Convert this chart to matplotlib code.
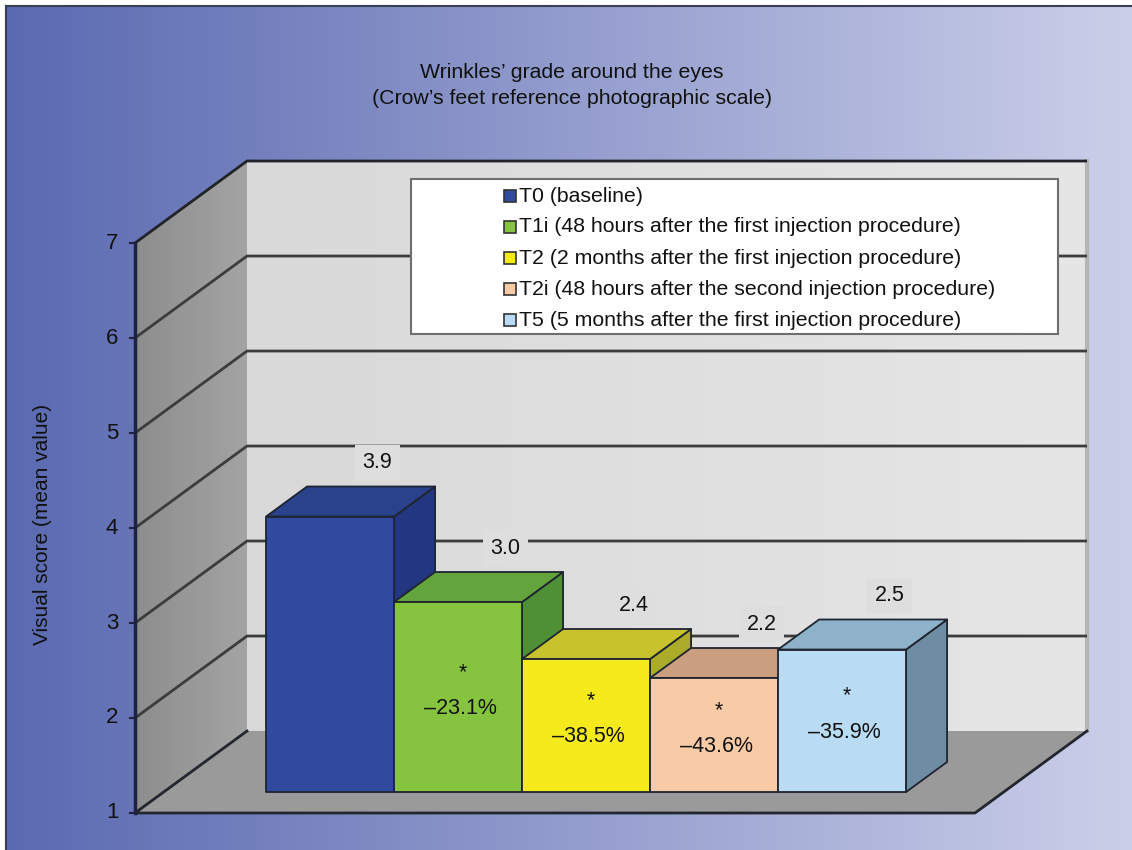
import numpy as np
import matplotlib
matplotlib.use("Agg")
import matplotlib.pyplot as plt
from matplotlib.patches import Polygon, Rectangle
from matplotlib.colors import to_rgb

plt.rcParams["font.family"] = ["Liberation Sans", "DejaVu Sans"]

# ---- data -------------------------------------------------------------
timepoints = ["T0", "T1i", "T2", "T2i", "T5"]
legend_labels = [
    "T0 (baseline)",
    "T1i (48 hours after the first injection procedure)",
    "T2 (2 months after the first injection procedure)",
    "T2i (48 hours after the second injection procedure)",
    "T5 (5 months after the first injection procedure)",
]
scores = [3.9, 3.0, 2.4, 2.2, 2.5]
significant = [False, True, True, True, True]
y_ticks = [1, 2, 3, 4, 5, 6, 7]

# ---- styling ----------------------------------------------------------
front_colors = ["#2f4a9e", "#86c440", "#f5ea1c", "#f9caa6", "#b9dbf3"]
top_colors = ["#2a418c", "#64a43c", "#c8c22c", "#c99f80", "#8fb2cb"]
side_colors = ["#233781", "#4f9036", "#adab2a", "#b88d6d", "#6e8da3"]
edge = "#1e2430"
text_color = "#111111"

# oblique projection of the 3-D box (depth 0 = front, 1 = back wall)
DX, DY = 0.875, 0.863
D_FRONT, D_BACK = 0.256, 0.622
X_LEFT, X_RIGHT = -1.30, 5.2625
V_MIN, V_MAX = 1, 7


def proj(x, v, d):
    return (x + d * DX, v + d * DY)


fig = plt.figure(figsize=(11.32, 8.5), dpi=100)
ax = fig.add_axes([0, 0, 1, 1])
ax.set_xlim(-2.3547, 6.489)
ax.set_ylim(0.6105, 9.558)
ax.axis("off")

# background gradient
c0 = np.array(to_rgb("#5a69b1"))
c1 = np.array(to_rgb("#cbcfe9"))
t = np.linspace(0, 1, 256)
grad = (c0[None, :] * (1 - t[:, None]) + c1[None, :] * t[:, None])[None, :, :]
ax.imshow(grad, extent=(-2.3547, 6.489, 0.6105, 9.558), aspect="auto",
          zorder=0, interpolation="bicubic")

# frame strips along top and left
fig.patches.append(Rectangle((0, 1 - 5 / 850), 1, 5 / 850, transform=fig.transFigure,
                             fc="white", ec="none", zorder=1))
fig.patches.append(Rectangle((0, 0), 6 / 1132, 1, transform=fig.transFigure,
                             fc="white", ec="none", zorder=1))
fig.lines.append(plt.Line2D([6 / 1132, 1], [1 - 6 / 850, 1 - 6 / 850],
                            transform=fig.transFigure, color="#3a3f55", lw=1.5))
fig.lines.append(plt.Line2D([6 / 1132, 6 / 1132], [0, 1 - 6 / 850],
                            transform=fig.transFigure, color="#3a3f55", lw=1.5))

# back wall with subtle gradient
bw = [proj(X_LEFT, V_MIN, 1), proj(X_RIGHT, V_MIN, 1),
      proj(X_RIGHT, V_MAX, 1), proj(X_LEFT, V_MAX, 1)]
bw_poly = Polygon(bw, closed=True, fc="none", ec="none", zorder=1)
ax.add_patch(bw_poly)
g0 = np.array(to_rgb("#d9d9d9"))
g1 = np.array(to_rgb("#e6e6e6"))
wall_grad = (g0[None, :] * (1 - t[:, None]) + g1[None, :] * t[:, None])[None, :, :]
im = ax.imshow(wall_grad, extent=(bw[0][0], bw[1][0], bw[0][1], bw[2][1]),
               aspect="auto", zorder=1)
im.set_clip_path(bw_poly)
ax.plot([bw[1][0], bw[2][0]], [bw[1][1], bw[2][1]], color="#b5b5b5", lw=3, zorder=2)

# left wall
lw_pts = [proj(X_LEFT, V_MIN, 0), proj(X_LEFT, V_MAX, 0),
          proj(X_LEFT, V_MAX, 1), proj(X_LEFT, V_MIN, 1)]
lw_poly = Polygon(lw_pts, closed=True, fc="none", ec="none", zorder=1)
ax.add_patch(lw_poly)
l0 = np.array(to_rgb("#8d8d8d"))
l1 = np.array(to_rgb("#a4a4a4"))
left_grad = (l0[None, :] * (1 - t[:, None]) + l1[None, :] * t[:, None])[None, :, :]
im2 = ax.imshow(left_grad, extent=(lw_pts[0][0], lw_pts[2][0], lw_pts[0][1], lw_pts[2][1]),
                aspect="auto", zorder=1)
im2.set_clip_path(lw_poly)

# floor
fl = [proj(X_LEFT, V_MIN, 0), proj(X_RIGHT, V_MIN, 0),
      proj(X_RIGHT, V_MIN, 1), proj(X_LEFT, V_MIN, 1)]
ax.add_patch(Polygon(fl, closed=True, fc="#9a9a9a", ec="none", zorder=2))

# gridlines across left wall and back wall
for v in y_ticks[1:]:
    p0, p1, p2 = proj(X_LEFT, v, 0), proj(X_LEFT, v, 1), proj(X_RIGHT, v, 1)
    col = "#202328" if v == V_MAX else "#3c3c3c"
    ax.plot([p0[0], p1[0], p2[0]], [p0[1], p1[1], p2[1]], color=col, lw=2,
            zorder=3, solid_capstyle="butt")

# floor edges
ax.plot([fl[3][0], fl[0][0], fl[1][0], fl[2][0]],
        [fl[3][1], fl[0][1], fl[1][1], fl[2][1]], color="#23262e", lw=2, zorder=3)

# value axis line and ticks
ax.plot([X_LEFT, X_LEFT], [V_MIN, V_MAX], color="#1c2240", lw=2.5, zorder=4)
for v in y_ticks:
    ax.plot([X_LEFT - 0.04, X_LEFT], [v, v], color="#1c2240", lw=1.5, zorder=4)
    ax.text(X_LEFT - 0.13, v, str(v), ha="right", va="center", fontsize=16,
            color=text_color, zorder=4)

# 3-D bars, drawn left to right so each bar covers its neighbour's side face
for i, (val, fc, tc, sc) in enumerate(zip(scores, front_colors, top_colors, side_colors)):
    xl, xr = i - 0.5, i + 0.5
    side = [proj(xr, V_MIN, D_FRONT), proj(xr, V_MIN, D_BACK),
            proj(xr, val, D_BACK), proj(xr, val, D_FRONT)]
    top = [proj(xl, val, D_FRONT), proj(xr, val, D_FRONT),
           proj(xr, val, D_BACK), proj(xl, val, D_BACK)]
    front = [proj(xl, V_MIN, D_FRONT), proj(xr, V_MIN, D_FRONT),
             proj(xr, val, D_FRONT), proj(xl, val, D_FRONT)]
    z = 5 + i
    for pts, c in ((side, sc), (top, tc), (front, fc)):
        ax.add_patch(Polygon(pts, closed=True, fc=c, ec=edge, lw=1.3,
                             joinstyle="round", zorder=z))

    # value above the bar
    lx, ly = proj(i + 0.05, val, D_BACK)
    ax.text(lx, ly + 0.25, f"{val:.1f}", ha="center", va="center", fontsize=15.5,
            color=text_color, zorder=20,
            bbox=dict(boxstyle="square,pad=0.35", fc="#dedede", ec="none"))

    # change from baseline inside the bar
    if significant[i]:
        change = (val - scores[0]) / scores[0] * 100
        cx, cy = proj(i, (V_MIN + val) / 2, D_FRONT)
        ax.text(cx + 0.02, cy - 0.12, f"\u2013{abs(change):.1f}%", ha="center",
                va="center", fontsize=15.5, color=text_color, zorder=20)
        ax.text(cx + 0.04, cy + 0.26, "*", ha="center", va="center", fontsize=15.5,
                color=text_color, zorder=20)

# titles
fig.text(572 / 1132, 1 - 72 / 850, "Wrinkles\u2019 grade around the eyes",
         ha="center", va="center", fontsize=15.3, color=text_color)
fig.text(572 / 1132, 1 - 99 / 850, "(Crow\u2019s feet reference photographic scale)",
         ha="center", va="center", fontsize=15.3, color=text_color)
fig.text(43 / 1132, 1 - 524 / 850, "Visual score (mean value)", rotation=90,
         ha="center", va="center", fontsize=15, color=text_color)

# legend box
lx0, lx1, ly0, ly1 = 411 / 1132, 1058 / 1132, 1 - 334 / 850, 1 - 179 / 850
fig.patches.append(Rectangle((lx0, ly0), lx1 - lx0, ly1 - ly0, transform=fig.transFigure,
                             fc="white", ec="#6e6e6e", lw=1.5, zorder=30))
for k, (lab, c) in enumerate(zip(legend_labels, front_colors)):
    yc = 1 - (196 + 31 * k) / 850
    fig.patches.append(Rectangle((504 / 1132, yc - 6 / 850), 12 / 1132, 12 / 850,
                                 transform=fig.transFigure, fc=c, ec="#333333",
                                 lw=1.2, zorder=31))
    fig.text(519 / 1132, yc, lab, ha="left", va="center", fontsize=15.3,
             color=text_color, zorder=31)

fig.savefig("out.png", dpi=100)
